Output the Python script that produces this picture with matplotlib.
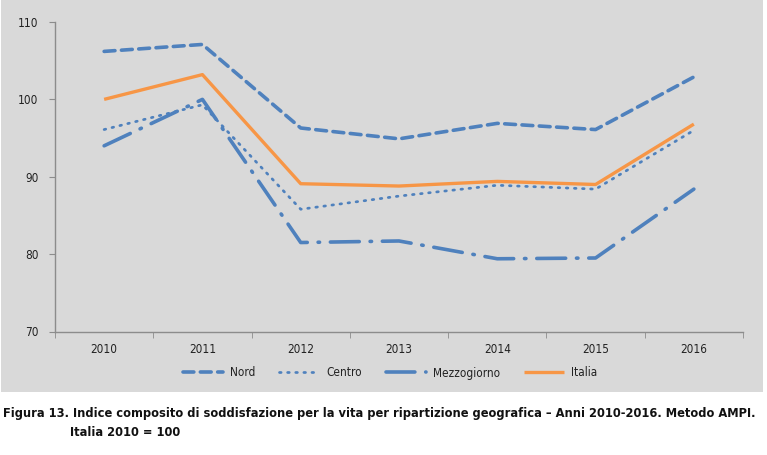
import matplotlib
matplotlib.use("Agg")
import matplotlib.pyplot as plt
from matplotlib.patches import Rectangle
from matplotlib import font_manager as fm

years = ['2010', '2011', '2012', '2013', '2014', '2015', '2016']
nord = [106.2, 107.1, 96.3, 94.9, 96.9, 96.1, 102.9]
centro = [96.1, 99.3, 85.8, 87.5, 88.9, 88.4, 96.0]
mezzogiorno = [94.0, 100.0, 81.5, 81.7, 79.4, 79.5, 88.4]
italia = [100.0, 103.2, 89.1, 88.8, 89.4, 89.0, 96.8]
yticks = [70, 80, 90, 100, 110]
caption1 = "Figura 13. Indice composito di soddisfazione per la vita per ripartizione geografica – Anni 2010-2016. Metodo AMPI."
caption2 = "Italia 2010 = 100"

# look for a condensed / narrow sans font
reg_path, bold_path = None, None
for f in fm.fontManager.ttflist:
    n = f.name.lower()
    fn = f.fname.lower()
    cond = ('narrow' in n or 'condensed' in n or 'narrow' in fn or 'condensed' in fn
            or str(f.stretch) in ('condensed', 'semi-condensed', '600', '700'))
    if cond and ('sans' in n or 'liberation' in n or 'dejavu' in n or 'roboto' in n or 'open' in n):
        if 'italic' in fn or 'oblique' in fn or f.style != 'normal':
            continue
        w = f.weight if isinstance(f.weight, int) else (700 if 'bold' in str(f.weight) else 400)
        if w >= 600 and bold_path is None:
            bold_path = f.fname
        elif w < 600 and reg_path is None:
            reg_path = f.fname
if reg_path:
    fp_reg = fm.FontProperties(fname=reg_path, size=8.5)
else:
    fp_reg = fm.FontProperties(family='Liberation Sans', size=8.5)
if bold_path:
    fp_bold = fm.FontProperties(fname=bold_path, size=10.5)
else:
    fp_bold = fm.FontProperties(family='Liberation Sans', weight='bold', size=10.5)

blue = '#4F81BD'
orange = '#F79646'
bg = '#D9D9D9'

fig = plt.figure(figsize=(7.67, 4.55), dpi=100)
fig.patch.set_facecolor('white')
fig.patches.append(Rectangle((0.0013, (455 - 392) / 455), 762 / 767, 392 / 455,
                             transform=fig.transFigure, facecolor=bg, edgecolor='none', zorder=-10))

ax = fig.add_axes([55 / 767, (455 - 331.5) / 455, 688 / 767, 309.5 / 455])
ax.set_zorder(5)
ax.set_facecolor('none')
x = list(range(len(years)))
lw = 2.6
ax.plot(x, nord, color=blue, lw=lw, linestyle=(0, (3.0, 1.8)), dash_capstyle='round', label='Nord')
ax.plot(x, centro, color=blue, lw=lw * 0.75, linestyle=(0, (0.6, 2.4)), dash_capstyle='round', label='Centro')
ax.plot(x, mezzogiorno, color=blue, lw=lw, linestyle=(0, (8, 3, 0.4, 3)), dash_capstyle='round', label='Mezzogiorno')
ax.plot(x, italia, color=orange, lw=2.4, solid_capstyle='butt', label='Italia')

ax.set_xlim(-0.5, len(years) - 0.5)
ax.set_ylim(70, 110)
ax.set_yticks(yticks)
ax.set_yticklabels([str(v) for v in yticks], fontproperties=fp_reg, color='#222222')
ax.set_xticks(x)
ax.set_xticklabels(years, fontproperties=fp_reg, color='#222222')
ax.tick_params(axis='x', which='major', length=0, pad=8)
ax.set_xticks([i - 0.5 for i in range(len(years) + 1)], minor=True)
ax.tick_params(axis='x', which='minor', length=4, color='#8C8C8C', direction='out')
ax.tick_params(axis='y', length=4, color='#8C8C8C', direction='out', pad=8)
for s in ['top', 'right']:
    ax.spines[s].set_visible(False)
for s in ['left', 'bottom']:
    ax.spines[s].set_color('#8C8C8C')
    ax.spines[s].set_linewidth(1.0)

leg = fig.legend(loc='center', bbox_to_anchor=(390 / 767, 1 - 373 / 455), ncol=4, frameon=False,
                 prop=fp_reg, handlelength=3.4, columnspacing=2.0, handletextpad=0.6)
for t in leg.get_texts():
    t.set_color('#222222')

t1 = fig.text(3 / 767, 1 - 414 / 455, caption1, fontproperties=fp_bold,
              va='center', ha='left', color='#111111')
t2 = fig.text(70 / 767, 1 - 433 / 455, caption2, fontproperties=fp_bold,
              va='center', ha='left', color='#111111')

# fit caption width to the reference (about 758 px)
r = fig.canvas.get_renderer()
wpx = t1.get_window_extent(renderer=r).width
if wpx > 0:
    s = fp_bold.get_size() * 758.0 / wpx
    t1.set_fontsize(s)
    t2.set_fontsize(s)

fig.savefig('out.png', dpi=100, facecolor=fig.get_facecolor())
